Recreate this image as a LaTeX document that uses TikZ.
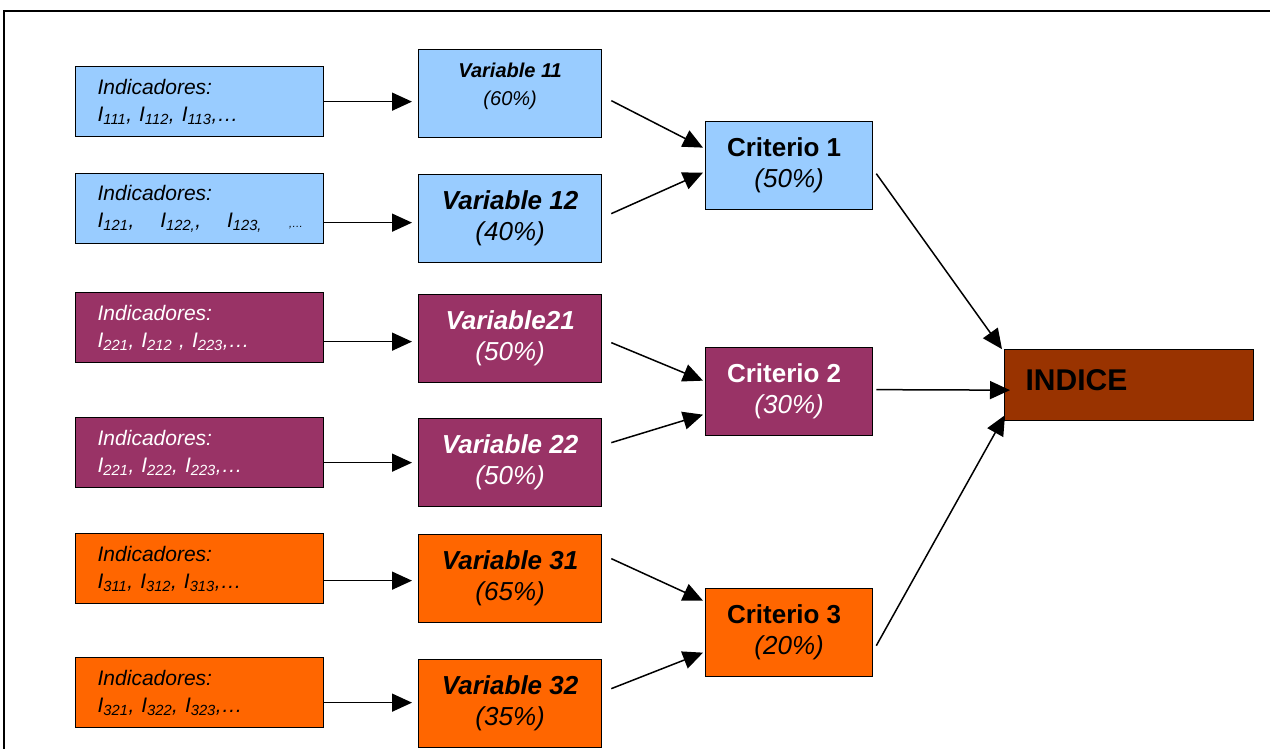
\documentclass[tikz,border=0pt]{standalone}
\usepackage{fontspec}
\setmainfont{Liberation Sans}
\usetikzlibrary{arrows.meta,calc}
\definecolor{lblue}{HTML}{99CCFF}
\definecolor{plum}{HTML}{993366}
\definecolor{orng}{HTML}{FF6600}
\definecolor{brwn}{HTML}{993300}
\begin{document}
\begin{tikzpicture}[x=1pt,y=-1pt,
 box/.style={draw=black, line width=1.3pt, rectangle, inner sep=0pt},
 ind/.style={box, minimum width=248pt, minimum height=70pt, anchor=north west, text width=204pt, align=left, font=\fontsize{21}{27}\selectfont\itshape},
 var/.style={box, minimum width=183pt, minimum height=88pt, anchor=north west, align=center, font=\fontsize{26}{31}\selectfont},
 crit/.style={box, minimum width=167pt, minimum height=88pt, anchor=north west, align=center, font=\fontsize{26}{31}\selectfont},
 arr/.style={line width=1.5pt, -{Triangle[length=20pt,width=18pt]}}]
\useasboundingbox (0,0) rectangle (1270,749);
\draw[line width=1.6pt] (4,749) -- (4,11) -- (1270,11);

% indicator boxes
\node[ind, fill=lblue] (i1) at (75,66) {Indicadores:\\I\textsubscript{111}, I\textsubscript{112}, I\textsubscript{113},…};
\node[ind, fill=lblue] (i2) at (75,173) {Indicadores:\\\makebox[0pt][l]{I\textsubscript{121},\hspace{26pt}I\textsubscript{122,},\hspace{26pt}I\textsubscript{123,}\hspace{27pt}{\fontsize{11}{11}\selectfont ,…}}};
\node[ind, fill=plum, text=white] (i3) at (75,292) {Indicadores:\\I\textsubscript{221}, I\textsubscript{212} , I\textsubscript{223},…};
\node[ind, fill=plum, text=white] (i4) at (75,417) {Indicadores:\\I\textsubscript{221}, I\textsubscript{222}, I\textsubscript{223},…};
\node[ind, fill=orng] (i5) at (75,533) {Indicadores:\\I\textsubscript{311}, I\textsubscript{312}, I\textsubscript{313},…};
\node[ind, fill=orng] (i6) at (75,657) {Indicadores:\\I\textsubscript{321}, I\textsubscript{322}, I\textsubscript{323},…};

% variable boxes
\node[var, fill=lblue, font=\fontsize{20}{28}\selectfont] (v11) at (418,49) {\textbf{\textit{Variable 11}}\\\textit{(60\%)}\rule[-18pt]{0pt}{1pt}};
\node[var, fill=lblue] (v12) at (418,174) {\textbf{\textit{Variable 12}}\\\textit{(40\%)}};
\node[var, fill=plum, text=white] (v21) at (418,294) {\textbf{\textit{Variable21}}\\\textit{(50\%)}};
\node[var, fill=plum, text=white] (v22) at (418,418) {\textbf{\textit{Variable 22}}\\\textit{(50\%)}};
\node[var, fill=orng] (v31) at (418,534) {\textbf{\textit{Variable 31}}\\\textit{(65\%)}};
\node[var, fill=orng] (v32) at (418,659) {\textbf{\textit{Variable 32}}\\\textit{(35\%)}};

% criteria
\node[crit, fill=lblue] (c1) at (705,121) {\textbf{Criterio 1}\hspace*{10pt}\\\textit{(50\%)}};
\node[crit, fill=plum, text=white] (c2) at (705,347) {\textbf{Criterio 2}\hspace*{10pt}\\\textit{(30\%)}};
\node[crit, fill=orng] (c3) at (705,588) {\textbf{Criterio 3}\hspace*{10pt}\\\textit{(20\%)}};

% index
\node[box, fill=brwn, minimum width=249pt, minimum height=71pt, anchor=north west, text width=207pt, align=left, font=\fontsize{30}{36}\selectfont\bfseries] (ix) at (1004,349) {INDICE\rule[-11pt]{0pt}{1pt}};

% indicator -> variable
\draw[arr] (i1.east) -- ([xshift=-6pt]v11.west |- i1.east);
\draw[arr] ([yshift=-14pt]i2.east) -- ([xshift=-6pt,yshift=-14pt]v12.west |- i2.east);
\draw[arr] ([yshift=-14pt]i3.east) -- ([xshift=-6pt,yshift=-14pt]v21.west |- i3.east);
\draw[arr] ([yshift=-10pt]i4.east) -- ([xshift=-6pt,yshift=-10pt]v22.west |- i4.east);
\draw[arr] ([yshift=-12pt]i5.east) -- ([xshift=-6pt,yshift=-12pt]v31.west |- i5.east);
\draw[arr] ([yshift=-10pt]i6.east) -- ([xshift=-6pt,yshift=-10pt]v32.west |- i6.east);

% variable -> criterion
\draw[arr] ([xshift=9pt,yshift=-7pt]v11.east) -- ([xshift=-2pt,yshift=18pt]c1.west);
\draw[arr] ([xshift=9pt,yshift=5pt]v12.east) -- ([xshift=-2pt,yshift=-7pt]c1.west);
\draw[arr] ([xshift=9pt,yshift=-4pt]v21.east) -- ([xshift=-2pt,yshift=11pt]c2.west);
\draw[arr] ([xshift=9pt,yshift=20pt]v22.east) -- ([xshift=-2pt,yshift=-23pt]c2.west);
\draw[arr] ([xshift=9pt,yshift=20pt]v31.east) -- ([xshift=-2pt,yshift=32pt]c3.west);
\draw[arr] ([xshift=9pt,yshift=15pt]v32.east) -- ([xshift=-2pt,yshift=-20pt]c3.west);

% criterion -> index
\draw[arr] ([xshift=3pt,yshift=-8pt]c1.east) -- ([xshift=-2pt,yshift=36pt]ix.west);
\draw[arr] ([xshift=3pt,yshift=2pt]c2.east) -- ([xshift=6pt,yshift=-5pt]ix.west);
\draw[arr] ([xshift=3pt,yshift=-13pt]c3.east) -- ([xshift=1pt,yshift=-30pt]ix.west);
\end{tikzpicture}
\end{document}
